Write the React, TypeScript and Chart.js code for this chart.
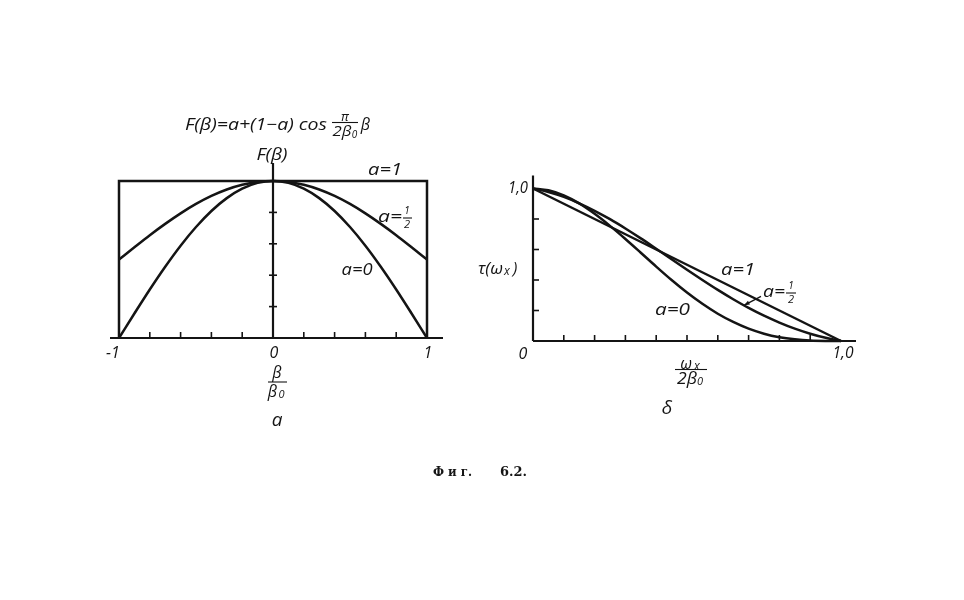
import React, { useEffect, useRef } from "react";
import { Chart, registerables } from "chart.js";
Chart.register(...registerables);

// ---------- data ----------
// Panel "а": F(β) vs β/β0
const leftBeta = [-1, -0.9, -0.8, -0.7, -0.6, -0.5, -0.4, -0.3, -0.2, -0.1, 0, 0.1, 0.2, 0.3, 0.4, 0.5, 0.6, 0.7, 0.8, 0.9, 1];
const leftHalf = [0.5, 0.578, 0.655, 0.727, 0.794, 0.854, 0.905, 0.946, 0.976, 0.994, 1, 0.994, 0.976, 0.946, 0.905, 0.854, 0.794, 0.727, 0.655, 0.578, 0.5];
const leftZero = [0, 0.156, 0.309, 0.454, 0.588, 0.707, 0.809, 0.891, 0.951, 0.988, 1, 0.988, 0.951, 0.891, 0.809, 0.707, 0.588, 0.454, 0.309, 0.156, 0];
const leftOneX = [-1, -1, 1, 1];
const leftOneY = [0, 1, 1, 0];
const leftXTicks = [-0.8, -0.6, -0.4, -0.2, 0.2, 0.4, 0.6, 0.8];
const leftYTicks = [0.2, 0.4, 0.6, 0.8];
const leftTickValues = [-1, 0, 1];
const leftTickLabels = ["-1", "0", "1"];

// Panel "δ": τ(ωx) vs ωx/2β0
const rightX = [0, 0.05, 0.1, 0.15, 0.2, 0.25, 0.3, 0.35, 0.4, 0.45, 0.5, 0.55, 0.6, 0.65, 0.7, 0.75, 0.8, 0.85, 0.9, 0.95, 1];
const rightZero = [1, 0.988, 0.954, 0.902, 0.834, 0.755, 0.669, 0.579, 0.488, 0.4, 0.318, 0.244, 0.179, 0.125, 0.081, 0.048, 0.025, 0.011, 0.003, 0.0004, 0];
const rightHalf = [1, 0.977, 0.945, 0.903, 0.854, 0.799, 0.738, 0.673, 0.605, 0.536, 0.467, 0.4, 0.335, 0.274, 0.217, 0.166, 0.121, 0.081, 0.048, 0.021, 0];
const rightOneX = [0, 1];
const rightOneY = [1, 0];
const rightXTicks = [0.1, 0.2, 0.3, 0.4, 0.5, 0.6, 0.7, 0.8, 0.9];
const rightYTicks = [0.2, 0.4, 0.6, 0.8];

const INK = "#141414";
const SANS = '"Open Sans", "DejaVu Sans", sans-serif';
const SERIF = '"DejaVu Serif", "Liberation Serif", serif';

function txt(
  ctx: CanvasRenderingContext2D,
  s: string,
  cx: number,
  cy: number,
  size: number,
  w?: number,
  font?: string
) {
  ctx.save();
  ctx.font = font ? `bold ${size}px ${font}` : `italic 500 ${size}px ${SANS}`;
  ctx.fillStyle = INK;
  ctx.textAlign = "center";
  ctx.textBaseline = "middle";
  const m = ctx.measureText(s).width;
  ctx.translate(cx, cy);
  if (w && m > 0) ctx.scale(w / m, 1);
  ctx.fillText(s, 0, 0);
  ctx.restore();
}

function hline(ctx: CanvasRenderingContext2D, x1: number, x2: number, y: number, lw: number) {
  ctx.save();
  ctx.strokeStyle = INK;
  ctx.lineWidth = lw;
  ctx.beginPath();
  ctx.moveTo(x1, y);
  ctx.lineTo(x2, y);
  ctx.stroke();
  ctx.restore();
}
function vline(ctx: CanvasRenderingContext2D, x: number, y1: number, y2: number, lw: number) {
  ctx.save();
  ctx.strokeStyle = INK;
  ctx.lineWidth = lw;
  ctx.beginPath();
  ctx.moveTo(x, y1);
  ctx.lineTo(x, y2);
  ctx.stroke();
  ctx.restore();
}

const pts = (xs: number[], ys: number[]) => xs.map((x, i) => ({ x, y: ys[i] }));

const lineDs = (data: { x: number; y: number }[], smooth: boolean) => ({
  data,
  showLine: true,
  borderColor: INK,
  borderWidth: 2.5,
  pointRadius: 0,
  tension: 0,
  cubicInterpolationMode: smooth ? ("monotone" as const) : ("default" as const),
  borderJoinStyle: "miter" as const,
  clip: false as any,
});

const leftDecor = {
  id: "leftDecor",
  afterDraw(chart: any) {
    const ctx: CanvasRenderingContext2D = chart.ctx;
    const xs = chart.scales.x;
    const ys = chart.scales.y;
    const X = (v: number) => xs.getPixelForValue(v);
    const Y = (v: number) => ys.getPixelForValue(v);
    // axes
    hline(ctx, X(-1) - 9, X(1) + 16, Y(0), 2.2);
    vline(ctx, X(0), Y(0), Y(1) - 18, 2.2);
    leftXTicks.forEach((t) => vline(ctx, X(t), Y(0), Y(0) - 6, 1.6));
    leftYTicks.forEach((t) => hline(ctx, X(0) - 4, X(0) + 4, Y(t), 1.6));
    // tick labels
    const lblX = [113, 274, 428];
    leftTickValues.forEach((v, i) => txt(ctx, leftTickLabels[i], lblX[i], Y(0) + 15, 16));
    // formula title
    txt(ctx, "F(β)=a+(1−a) cos", 256, 125, 16, 142);
    txt(ctx, "π", 345, 117, 13);
    hline(ctx, 332, 358, 122.5, 1.1);
    txt(ctx, "2β", 342, 132, 14, 19);
    txt(ctx, "0", 354.5, 135, 10);
    txt(ctx, "β", 365.5, 125, 16);
    // y label
    txt(ctx, "F(β)", 272, 155, 16, 31);
    // curve labels
    txt(ctx, "a=1", 385, 170, 17, 34);
    txt(ctx, "a=", 390, 217, 17, 24);
    txt(ctx, "1", 407, 211, 10);
    hline(ctx, 403, 412, 218, 1.1);
    txt(ctx, "2", 407, 224.5, 11);
    txt(ctx, "a=0", 357, 270.5, 17, 31);
    // x label
    txt(ctx, "β", 277, 373, 16);
    hline(ctx, 268, 287, 382, 1.1);
    txt(ctx, "β", 272.5, 392.5, 16);
    txt(ctx, "0", 281.5, 395, 11);
    // panel letter
    txt(ctx, "а", 277, 421, 19);
    // caption
    txt(ctx, "Ф и г.", 452.5, 473, 12, 39, SERIF);
    txt(ctx, "6.2.", 513.5, 473, 13, 27, SERIF);
  },
};

const rightDecor = {
  id: "rightDecor",
  afterDraw(chart: any) {
    const ctx: CanvasRenderingContext2D = chart.ctx;
    const xs = chart.scales.x;
    const ys = chart.scales.y;
    const X = (v: number) => xs.getPixelForValue(v);
    const Y = (v: number) => ys.getPixelForValue(v);
    hline(ctx, X(0), X(1) + 15, Y(0), 2.2);
    vline(ctx, X(0), Y(0), Y(1) - 13, 2.2);
    rightXTicks.forEach((t) => vline(ctx, X(t), Y(0), Y(0) - 6, 1.6));
    rightYTicks.forEach((t) => hline(ctx, X(0), X(0) + 6, Y(t), 1.6));
    // tick labels
    txt(ctx, "1,0", 518, Y(1), 16, 20);
    txt(ctx, "0", 523, Y(0) + 13, 16);
    txt(ctx, "1,0", 843, Y(0) + 12, 16, 21);
    // y label
    txt(ctx, "τ(ω", 490.5, 269, 16, 25);
    txt(ctx, "x", 507, 272, 12);
    txt(ctx, ")", 515, 269, 16);
    // x label
    txt(ctx, "ω", 686, 364, 16);
    txt(ctx, "x", 697, 366.5, 12);
    hline(ctx, 675, 707, 369.5, 1.1);
    txt(ctx, "2β", 687, 379, 16, 20);
    txt(ctx, "0", 700, 382, 11);
    // panel letter
    txt(ctx, "δ", 667, 409, 19);
    // curve labels
    txt(ctx, "a=1", 738, 270, 17, 34);
    txt(ctx, "a=", 774, 292, 17, 22);
    txt(ctx, "1", 791, 286.5, 10);
    hline(ctx, 786, 796, 293, 1.1);
    txt(ctx, "2", 791, 299.5, 11);
    txt(ctx, "a=0", 672.5, 310, 17, 35);
    // arrow to the a=1/2 curve
    const tx = X(0.685);
    const ty = Y(0.234);
    const sx = tx + 17;
    const sy = ty - 9;
    ctx.save();
    ctx.strokeStyle = INK;
    ctx.fillStyle = INK;
    ctx.lineWidth = 1.3;
    ctx.beginPath();
    ctx.moveTo(sx, sy);
    ctx.lineTo(tx, ty);
    ctx.stroke();
    const ang = Math.atan2(ty - sy, tx - sx);
    ctx.beginPath();
    ctx.moveTo(tx, ty);
    ctx.lineTo(tx - 6 * Math.cos(ang - 0.35), ty - 6 * Math.sin(ang - 0.35));
    ctx.lineTo(tx - 6 * Math.cos(ang + 0.35), ty - 6 * Math.sin(ang + 0.35));
    ctx.closePath();
    ctx.fill();
    ctx.restore();
  },
};

const baseOptions = (pad: any, xmin: number, xmax: number) => ({
  responsive: false,
  animation: false as const,
  devicePixelRatio: 1,
  events: [] as any[],
  layout: { padding: pad },
  scales: {
    x: { type: "linear" as const, min: xmin, max: xmax, display: false },
    y: { type: "linear" as const, min: 0, max: 1, display: false },
  },
  plugins: { legend: { display: false }, tooltip: { enabled: false }, title: { display: false } },
});

export default function App() {
  const leftRef = useRef<HTMLCanvasElement>(null);
  const rightRef = useRef<HTMLCanvasElement>(null);

  useEffect(() => {
    const left = new Chart(leftRef.current!, {
      type: "scatter",
      data: {
        datasets: [
          lineDs(pts(leftOneX, leftOneY), false),
          lineDs(pts(leftBeta, leftHalf), true),
          lineDs(pts(leftBeta, leftZero), true),
        ] as any,
      },
      options: baseOptions({ left: 119, right: 537, top: 181, bottom: 262 }, -1, 1) as any,
      plugins: [leftDecor],
    });
    const right = new Chart(rightRef.current!, {
      type: "scatter",
      data: {
        datasets: [
          lineDs(pts(rightOneX, rightOneY), false),
          lineDs(pts(rightX, rightHalf), true),
          lineDs(pts(rightX, rightZero), true),
        ] as any,
      },
      options: baseOptions({ left: 533, right: 123, top: 188.5, bottom: 259 }, 0, 1) as any,
      plugins: [rightDecor],
    });
    return () => {
      left.destroy();
      right.destroy();
    };
  }, []);

  const cs: React.CSSProperties = { position: "absolute", left: 0, top: 0, width: 964, height: 600, display: "block" };
  return (
    <div style={{ position: "fixed", left: 0, top: 0, width: 964, height: 600, background: "#fff" }}>
      <canvas ref={leftRef} width={964} height={600} style={cs} />
      <canvas ref={rightRef} width={964} height={600} style={cs} />
    </div>
  );
}
